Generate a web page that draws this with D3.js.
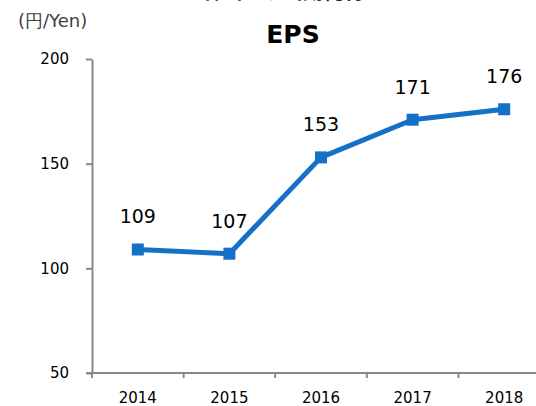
<!DOCTYPE html>
<html>
<head>
<meta charset="utf-8">
<script src="https://cdn.jsdelivr.net/npm/d3@7"></script>
<style>
  body { margin: 0; background: #fff; }
  svg { display: block; font-family: "DejaVu Sans", Verdana, sans-serif; }
</style>
</head>
<body>
<div id="chart"></div>
<script>
const years = ["2014", "2015", "2016", "2017", "2018"]
const eps = [109, 107, 153, 171, 176]
const yTicks = [50, 100, 150, 200]

const width = 536
const height = 406
const margin = { top: 59, right: -14, bottom: 33, left: 92 }
const blue = "#1570c8"
const axisGray = "#898989"

const svg = d3.select("#chart").append("svg")
  .attr("width", width)
  .attr("height", height)

const x = d3.scaleBand()
  .domain(years)
  .range([margin.left, width - margin.right])

const y = d3.scaleLinear()
  .domain([50, 200])
  .range([height - margin.bottom, margin.top])

// heading above the crop, only its lower edge shows
svg.append("text")
  .attr("x", 287)
  .attr("y", -1)
  .attr("text-anchor", "middle")
  .attr("font-size", 20)
  .attr("font-weight", "bold")
  .attr("font-family", "'Noto Sans CJK JP', sans-serif")
  .attr("fill", "#222")
  .text("1株当たり当期純利益")

svg.append("text")
  .attr("x", 293)
  .attr("y", 43)
  .attr("text-anchor", "middle")
  .attr("font-size", 25)
  .attr("font-weight", "bold")
  .attr("fill", "#000")
  .text("EPS")

svg.append("text")
  .attr("x", 18)
  .attr("y", 27)
  .attr("font-size", 18)
  .attr("fill", "#404040")
  .text("(円/Yen)")

// axes
const yAxis = svg.append("g")
  .attr("transform", `translate(${margin.left},0)`)
  .call(d3.axisLeft(y).tickValues(yTicks).tickSize(6).tickPadding(17).tickSizeOuter(0))
yAxis.attr("font-family", null).attr("font-size", null)
yAxis.selectAll("text").attr("font-size", 15).attr("fill", "#000")

const xAxis = svg.append("g")
  .attr("transform", `translate(0,${height - margin.bottom})`)
xAxis.append("line")
  .attr("x1", margin.left - 6).attr("x2", width)
  .attr("stroke", axisGray).attr("stroke-width", 2)
xAxis.selectAll(".tk")
  .data(years)
  .join("line")
  .attr("class", "tk")
  .attr("x1", d => x(d)).attr("x2", d => x(d))
  .attr("y1", 0).attr("y2", 5)
  .attr("stroke", axisGray).attr("stroke-width", 2)
xAxis.selectAll(".lbl")
  .data(years)
  .join("text")
  .attr("class", "lbl")
  .attr("x", d => x(d) + x.bandwidth() / 2)
  .attr("y", 30)
  .attr("text-anchor", "middle")
  .attr("font-size", 15)
  .attr("fill", "#000")
  .text(d => d)

yAxis.select(".domain").attr("stroke", axisGray).attr("stroke-width", 2)
yAxis.selectAll(".tick line").attr("stroke", axisGray).attr("stroke-width", 2)

// series
const pts = years.map((yr, i) => ({ year: yr, value: eps[i] }))
const cx = d => x(d.year) + x.bandwidth() / 2

svg.append("path")
  .datum(pts)
  .attr("fill", "none")
  .attr("stroke", blue)
  .attr("stroke-width", 5)
  .attr("stroke-linejoin", "round")
  .attr("d", d3.line().x(cx).y(d => y(d.value)))

svg.append("g").selectAll("rect")
  .data(pts)
  .join("rect")
  .attr("x", d => cx(d) - 6)
  .attr("y", d => y(d.value) - 6)
  .attr("width", 12)
  .attr("height", 12)
  .attr("fill", blue)

svg.append("g").selectAll("text")
  .data(pts)
  .join("text")
  .attr("x", cx)
  .attr("y", d => y(d.value) - 26)
  .attr("text-anchor", "middle")
  .attr("font-size", 19)
  .attr("fill", "#000")
  .text(d => d.value)
</script>
</body>
</html>
